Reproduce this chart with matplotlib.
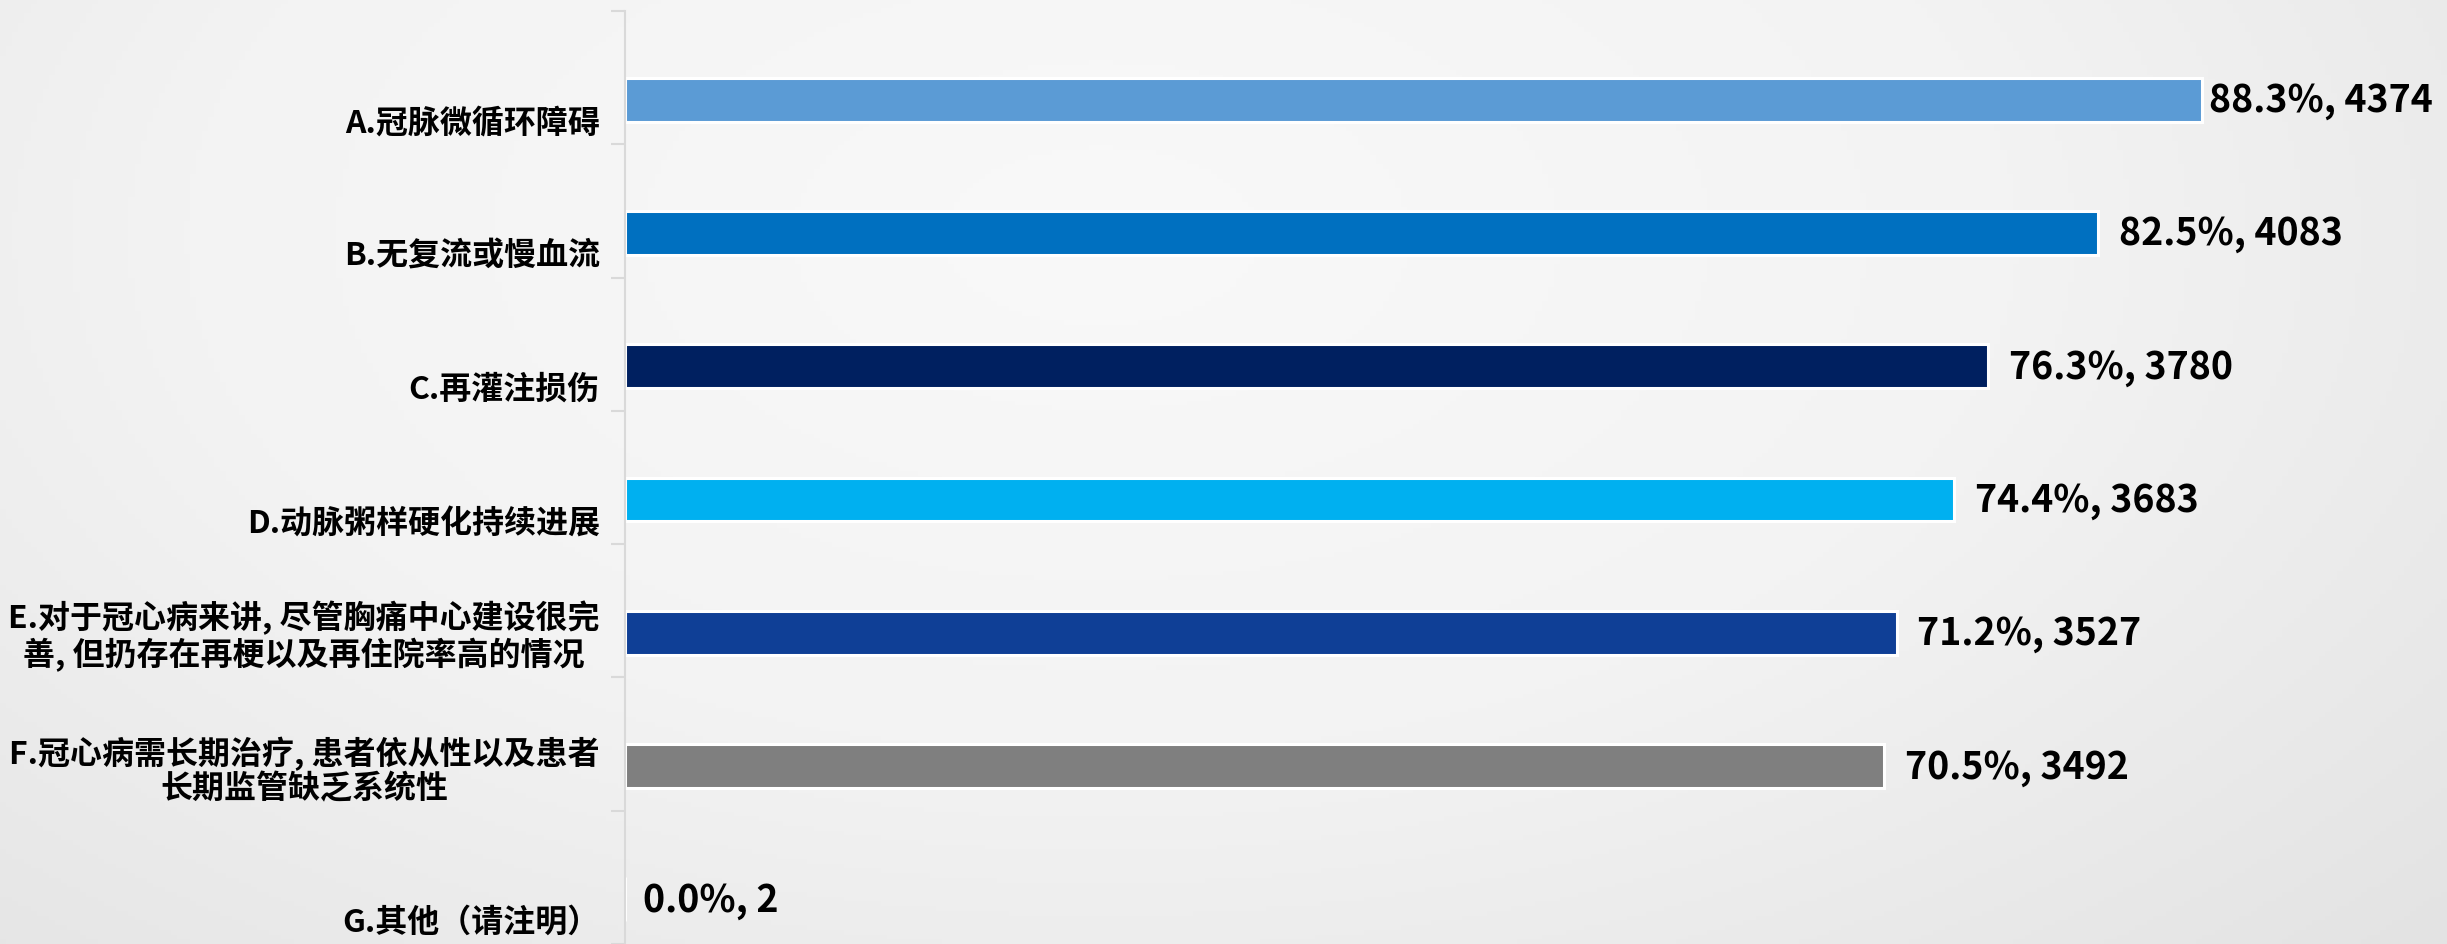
import numpy as np
import matplotlib
matplotlib.use("Agg")
import matplotlib.pyplot as plt

plt.rcParams["font.family"] = ["Noto Sans CJK SC", "DejaVu Sans"]

# data, top to bottom
categories = [
    "A.冠脉微循环障碍",
    "B.无复流或慢血流",
    "C.再灌注损伤",
    "D.动脉粥样硬化持续进展",
    "E.对于冠心病来讲, 尽管胸痛中心建设很完\n善, 但扔存在再梗以及再住院率高的情况",
    "F.冠心病需长期治疗, 患者依从性以及患者\n长期监管缺乏系统性",
    "G.其他（请注明）",
]
percents = [88.3, 82.5, 76.3, 74.4, 71.2, 70.5, 0.0]
counts = [4374, 4083, 3780, 3683, 3527, 3492, 2]
colors = ["#5B9BD5", "#0070C0", "#002060", "#00B0F0", "#0F3F96", "#7F7F7F", "#7F7F7F"]
label_gap = [5, 15, 15, 15, 15, 15, 13]   # pt between bar end and value text

W, H = 2447, 945
fig = plt.figure(figsize=(W / 100, H / 100), dpi=100)

# soft grey radial background
bg = fig.add_axes([0, 0, 1, 1], zorder=-10)
yy, xx = np.mgrid[0:1:200j, 0:1:400j]
r = np.sqrt(((xx - 0.45) / 0.75) ** 2 + ((yy - 0.25) / 1.1) ** 2)
bg.imshow(np.clip(r, 0, 1), cmap=matplotlib.colors.LinearSegmentedColormap.from_list(
    "g", ["#F9F9F9", "#F3F3F3", "#E3E3E3"]), vmin=0, vmax=1, aspect="auto",
    extent=[0, 1, 1, 0])
bg.axis("off")

ax = fig.add_axes([625 / W, 0.0, (2411 - 625) / W, 1 - 12 / H])
ax.patch.set_alpha(0)
n = len(categories)
ypos = np.arange(n)
ax.barh(ypos + 0.165, percents, height=0.33, color=colors,
        edgecolor="white", linewidth=2.2)

for y, p, c, g in zip(ypos, percents, counts, label_gap):
    ax.annotate(f"{p:.1f}%, {c}", (p, y + 0.165), xytext=(g, 0),
                textcoords="offset points", va="center", ha="left",
                fontsize=27, fontweight="heavy", color="black")

ax.set_xlim(0, 100)
ax.set_ylim(n - 0.5, -0.5)

ax.set_yticks(ypos + 0.455, categories)
for t in ax.get_yticklabels():
    t.set_va("bottom")
    t.set_multialignment("center")
    t.set_fontweight("heavy")
    t.set_fontsize(23)
    t.set_linespacing(1.1)
ax.tick_params(axis="y", which="major", length=0, pad=18)
ax.set_yticks(np.arange(n + 1) - 0.5, minor=True)
ax.tick_params(axis="y", which="minor", length=10, width=1.5, color="#D9D9D9")
ax.set_xticks([])

for s in ["top", "right", "bottom"]:
    ax.spines[s].set_visible(False)
ax.spines["left"].set_color("#D9D9D9")
ax.spines["left"].set_linewidth(1.5)

fig.savefig("out.png", dpi=100)
